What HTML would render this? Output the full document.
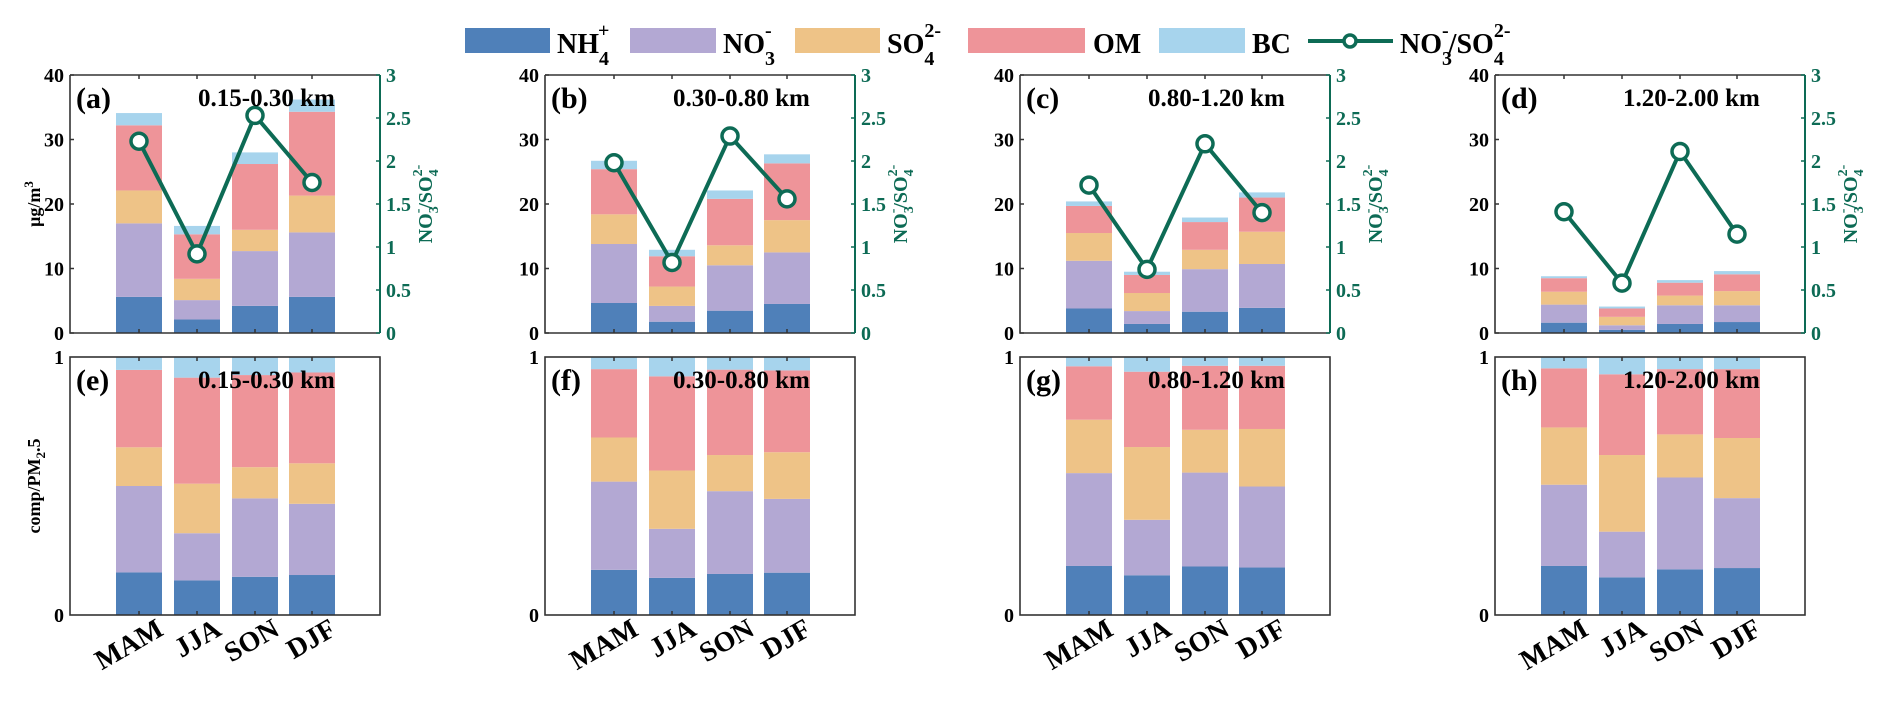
<!DOCTYPE html>
<html><head><meta charset="utf-8"><style>
body{margin:0;background:#fff;width:1892px;height:709px;overflow:hidden}
svg{display:block;font-family:"Liberation Serif",serif;font-weight:bold}
</style></head><body>
<svg id="chart" width="1892" height="709" viewBox="0 0 1892 709" xmlns="http://www.w3.org/2000/svg">
<g font-size="28">
 <rect x="465" y="28" width="85" height="25" fill="#4f80b9"/>
 <text x="557" y="53">NH<tspan font-size="20" dy="12">4</tspan><tspan font-size="20" dx="-11" dy="-28">+</tspan></text>
 <rect x="630" y="28" width="86" height="25" fill="#b3a8d3"/>
 <text x="723" y="53">NO<tspan font-size="20" dy="12">3</tspan><tspan font-size="20" dx="-10" dy="-28">-</tspan></text>
 <rect x="795" y="28" width="85" height="25" fill="#eec387"/>
 <text x="887" y="53">SO<tspan font-size="20" dy="12">4</tspan><tspan font-size="20" dx="-10" dy="-28">2-</tspan></text>
 <rect x="968" y="28" width="117" height="25" fill="#ee9499"/>
 <text x="1093" y="53">OM</text>
 <rect x="1159" y="28" width="86" height="25" fill="#a7d4ed"/>
 <text x="1252" y="53">BC</text>
 <line x1="1308" y1="41" x2="1393" y2="41" stroke="#0d6b55" stroke-width="4"/>
 <circle cx="1350" cy="41" r="6" fill="#fff" stroke="#0d6b55" stroke-width="3.5"/>
 <text x="1400" y="53">NO<tspan font-size="20" dy="12">3</tspan><tspan font-size="20" dx="-10" dy="-28">-</tspan><tspan dy="16">/SO</tspan><tspan font-size="20" dy="12">4</tspan><tspan font-size="20" dx="-10" dy="-28">2-</tspan></text>
</g>
<text transform="translate(40,204) rotate(-90)" text-anchor="middle" font-size="18">μg/m<tspan font-size="13" dy="-7">3</tspan></text>
<text transform="translate(40,486) rotate(-90)" text-anchor="middle" font-size="18">comp/PM<tspan font-size="13" dy="5">2</tspan><tspan dy="-5">.5</tspan></text>
</svg>
<script>
const seasons=["MAM","JJA","SON","DJF"];
const altitudes=["0.15-0.30 km","0.30-0.80 km","0.80-1.20 km","1.20-2.00 km"];
const topLabels=["(a)","(b)","(c)","(d)"];
const bottomLabels=["(e)","(f)","(g)","(h)"];
const componentNames=["nh4","no3","so4","om","bc"];
const colors=["#4f80b9","#b3a8d3","#eec387","#ee9499","#a7d4ed"];
const leftTicks=[0,10,20,30,40];
const rightTicks=[0,0.5,1,1.5,2,2.5,3];
const rightTickLabels=["0","0.5","1","1.5","2","2.5","3"];
const concA=[[5.6,11.4,5.1,10.1,1.9],[2.1,3.0,3.3,6.9,1.3],[4.2,8.5,3.3,10.2,1.8],[5.6,10.0,5.7,13.0,1.9]];
const concB=[[4.65,9.15,4.6,7.0,1.3],[1.75,2.45,3.0,4.7,1.0],[3.46,7.04,3.1,7.2,1.3],[4.5,8.0,5.0,8.8,1.4]];
const concC=[[3.8,7.4,4.3,4.2,0.7],[1.4,2.0,2.8,2.8,0.5],[3.3,6.6,3.0,4.3,0.7],[3.9,6.8,5.0,5.3,0.8]];
const concD=[[1.6,2.8,2.0,2.1,0.3],[0.5,0.7,1.3,1.3,0.3],[1.4,2.9,1.5,2.0,0.4],[1.7,2.6,2.2,2.6,0.5]];
const ratioA=[2.23,0.92,2.53,1.75];
const ratioB=[1.98,0.82,2.29,1.56];
const ratioC=[1.72,0.74,2.2,1.40];
const ratioD=[1.41,0.58,2.11,1.15];
const fracE=[[.165,.335,.15,.30,.05],[.134,.183,.192,.411,.08],[.148,.304,.121,.357,.07],[.155,.276,.157,.352,.06]];
const fracF=[[.175,.342,.171,.265,.047],[.144,.190,.226,.365,.075],[.159,.321,.140,.331,.049],[.164,.286,.181,.317,.052]];
const fracG=[[.190,.360,.207,.207,.036],[.154,.215,.282,.292,.057],[.188,.364,.166,.248,.034],[.184,.314,.223,.245,.034]];
const fracH=[[.190,.315,.222,.229,.044],[.146,.177,.297,.313,.067],[.177,.356,.167,.253,.047],[.182,.271,.233,.267,.047]];

const concs=[concA,concB,concC,concD];
const ratios=[ratioA,ratioB,ratioC,ratioD];
const fracs=[fracE,fracF,fracG,fracH];
const svg=document.getElementById('chart');
const NS="http://www.w3.org/2000/svg";
function mk(tag,attrs,parent){const e=document.createElementNS(NS,tag);for(const k in attrs)e.setAttribute(k,attrs[k]);(parent||svg).appendChild(e);return e;}
const W=310, TT=75, TB=333, BT=357, BB=615, BW=46, GREEN="#0d6b55";
const centersOff=[69,127,185,242];
function xPos(L,i){return L+centersOff[i];}
function yTop(v){return TB-(v/40)*(TB-TT);}
function yRatio(v){return TB-(v/3)*(TB-TT);}
function yFrac(v){return BB-v*(BB-BT);}

for(let p=0;p<4;p++){
 const L=70+475*p;
 const gt=mk('g',{});
 
 
 for(let s=0;s<4;s++){
  let acc=0;
  for(let c=0;c<5;c++){
   const v=concs[p][s][c];
   const r=mk('rect',{x:xPos(L,s)-BW/2,y:yTop(acc+v),width:BW,height:yTop(acc)-yTop(acc+v),fill:colors[c]},gt);
   
   
   acc+=v;
  }
 }
 const ax=mk('path',{d:`M${L},${TT}V${TB}H${L+W}M${L},${TT}H${L+W}`,stroke:'#333',fill:'none','stroke-width':1.6},gt);
 
 
 const ra=mk('line',{x1:L+W,y1:TT,x2:L+W,y2:TB,stroke:GREEN,'stroke-width':2},gt);
 
 
 for(let s=0;s<4;s++){
  mk('line',{x1:xPos(L,s),x2:xPos(L,s),y1:TB,y2:TB-4,stroke:'#333','stroke-width':1.5},gt);
  mk('line',{x1:xPos(L,s),x2:xPos(L,s),y1:TT,y2:TT+4,stroke:'#333','stroke-width':1.5},gt);
 }
 leftTicks.forEach(t=>{
  mk('line',{x1:L,x2:L+4,y1:yTop(t),y2:yTop(t),stroke:'#333','stroke-width':1.5},gt);
  const tx=mk('text',{x:L-6,y:yTop(t)+7,'text-anchor':'end','font-size':20},gt);
  tx.textContent=t;
  
  
 });
 rightTicks.forEach((t,i)=>{
  mk('line',{x1:L+W,x2:L+W-4,y1:yRatio(t),y2:yRatio(t),stroke:GREEN,'stroke-width':1.5},gt);
  const tx=mk('text',{x:L+W+6,y:yRatio(t)+7,'font-size':20,fill:GREEN},gt);
  tx.textContent=rightTickLabels[i];
  
  
 });
 const pts=ratios[p].map((v,i)=>xPos(L,i)+','+yRatio(v)).join(' ');
 const pl=mk('polyline',{points:pts,fill:'none',stroke:GREEN,'stroke-width':4},gt);
 
 
 ratios[p].forEach((v,i)=>{
  const c=mk('circle',{cx:xPos(L,i),cy:yRatio(v),r:8,fill:'#fff',stroke:GREEN,'stroke-width':3.5},gt);
  
  
 });
 const lb=mk('text',{x:L+6,y:108,'font-size':30},gt);
 lb.textContent=topLabels[p];
 
 
 const al=mk('text',{x:L+128,y:106,'font-size':25},gt);
 al.textContent=altitudes[p];
 
 
 const rt=mk('text',{transform:`translate(${L+W+52},204) rotate(-90)`,'text-anchor':'middle','font-size':20,fill:GREEN},gt);
 rt.innerHTML='NO<tspan font-size="14" dy="6">3</tspan><tspan font-size="14" dx="-7" dy="-16">-</tspan><tspan dy="10">/SO</tspan><tspan font-size="14" dy="6">4</tspan><tspan font-size="14" dx="-7" dy="-16">2-</tspan>';
 
 

 const gb=mk('g',{});
 
 
 for(let s=0;s<4;s++){
  let acc=0;
  for(let c=0;c<5;c++){
   const v=fracs[p][s][c];
   const top=Math.min(acc+v,1);
   const r=mk('rect',{x:xPos(L,s)-BW/2,y:yFrac(top),width:BW,height:yFrac(acc)-yFrac(top),fill:colors[c]},gb);
   
   
   acc+=v;
  }
 }
 const bx=mk('rect',{x:L,y:BT,width:W,height:BB-BT,fill:'none',stroke:'#333','stroke-width':1.6},gb);
 
 
 for(let s=0;s<4;s++){
  mk('line',{x1:xPos(L,s),x2:xPos(L,s),y1:BB,y2:BB-4,stroke:'#333','stroke-width':1.5},gb);
  mk('line',{x1:xPos(L,s),x2:xPos(L,s),y1:BT,y2:BT+4,stroke:'#333','stroke-width':1.5},gb);
  const xl=mk('text',{transform:`translate(${xPos(L,s)+26},634) rotate(-30)`,'text-anchor':'end','font-size':28},gb);
  xl.textContent=seasons[s];
  
  
 }
 [0,1].forEach(t=>{
  const tx=mk('text',{x:L-6,y:yFrac(t)+7,'text-anchor':'end','font-size':20},gb);
  tx.textContent=t;
  
  
 });
 const lb2=mk('text',{x:L+6,y:390,'font-size':30},gb);
 lb2.textContent=bottomLabels[p];
 
 
 const al2=mk('text',{x:L+128,y:388,'font-size':25},gb);
 al2.textContent=altitudes[p];
 
 
}
</script>
</body></html>
